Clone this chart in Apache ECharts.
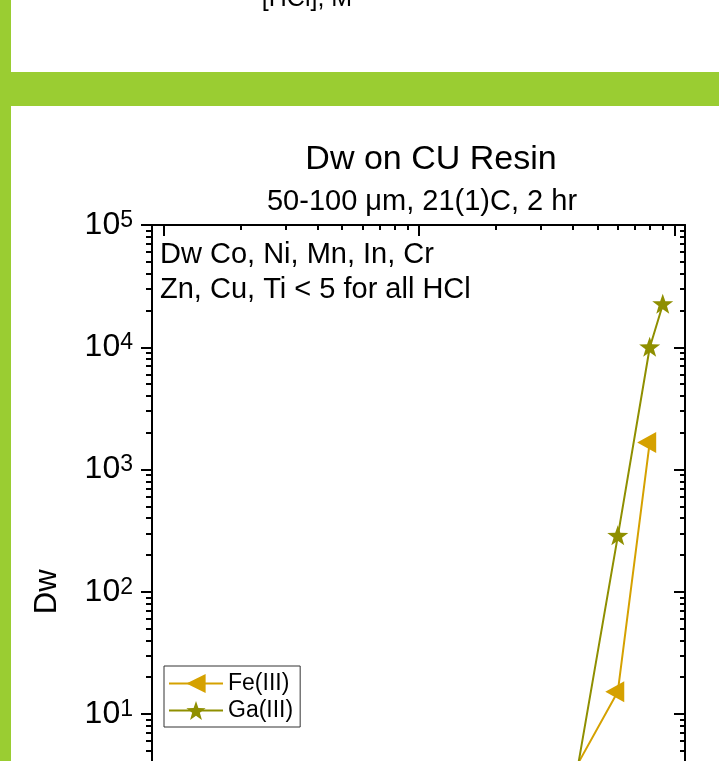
<!DOCTYPE html>
<html><head><meta charset="utf-8">
<script src="https://cdn.jsdelivr.net/npm/echarts@6/dist/echarts.min.js"></script>
<style>html,body{margin:0;padding:0;overflow:hidden;background:#fff}#c{width:719px;height:1000px}</style>
</head><body><div id="c"></div>
<script>
// ---- data ----
const hclFe = [4, 6, 8];
const dwFe = [3.3, 15.2, 1660];
const hclGa = [4, 6, 8, 9];
const dwGa = [2.15, 284, 9900, 22300];
const seriesNames = ['Fe(III)', 'Ga(III)'];
const yDecadeExps = [-1, 0, 1, 2, 3, 4, 5];
const xDecadeValues = [0.1, 1, 10];
const xLabelTexts = ['0.1', '1', '10'];
const titleText = 'Dw on CU Resin';
const subtitleText = '50-100 \u03bcm, 21(1)C, 2 hr';
const noteLines = ['Dw Co, Ni, Mn, In, Cr', 'Zn, Cu, Ti < 5 for all HCl'];
const prevAxisTitle = '[HCl], M';

// ---- layout / style ----
const FF = '"Liberation Sans", Arial, sans-serif';
const xMin = 0.09, xMax = 11, yMin = 0.1, yMax = 1e5;
const lg = Math.log10;
const xMinorVals = [];
for (let d = -2; d <= 1; d++) for (let k = 2; k <= 9; k++) {
  const v = lg(k * Math.pow(10, d));
  if (v >= lg(xMin) - 1e-9 && v <= lg(xMax) + 1e-9) xMinorVals.push(v);
}
const yMinorVals = [];
for (let d = -1; d <= 4; d++) for (let k = 2; k <= 9; k++) yMinorVals.push(lg(k * Math.pow(10, d)));

const black = '#000';
const axLine = { show: true, onZero: false, lineStyle: { color: black, width: 2 } };
const noLine = { show: false, onZero: false };
const noSplit = { show: false };
const noLabel = { show: false };
function tick(vals, len, inside) {
  return { show: true, inside: inside, length: len, customValues: vals, lineStyle: { color: black, width: 2 } };
}
const xLgMin = lg(xMin), xLgMax = lg(xMax);

const chart = echarts.init(document.getElementById('c'), null, { renderer: 'canvas' });
chart.setOption({
  animation: false,
  backgroundColor: '#fff',
  grid: { left: 152, top: 225, width: 533, height: 733.5, containLabel: false, outerBoundsMode: 'none' },
  xAxis: [
    { type: 'log', min: xMin, max: xMax, position: 'bottom', axisLine: axLine, axisTick: { show: false },
      axisLabel: noLabel, splitLine: noSplit, name: prevAxisTitle, nameLocation: 'middle', nameGap: 40,
      nameTextStyle: { fontSize: 30, fontFamily: FF, color: black } },
    { type: 'value', min: xLgMin, max: xLgMax, position: 'top', axisLine: axLine,
      axisTick: tick(xDecadeValues.map(lg), 11, true), axisLabel: noLabel, splitLine: noSplit },
    { type: 'value', min: xLgMin, max: xLgMax, position: 'top', axisLine: noLine,
      axisTick: tick(xMinorVals, 5, true), axisLabel: noLabel, splitLine: noSplit },
    { type: 'value', min: xLgMin, max: xLgMax, position: 'bottom', axisLine: noLine,
      axisTick: tick(xDecadeValues.map(lg), 11, false), splitLine: noSplit,
      axisLabel: { show: true, customValues: xDecadeValues.map(lg), fontSize: 30, fontFamily: FF, color: black,
        formatter: v => xLabelTexts[Math.round(v) + 1] } },
    { type: 'value', min: xLgMin, max: xLgMax, position: 'bottom', axisLine: noLine,
      axisTick: tick(xMinorVals, 6, false), axisLabel: noLabel, splitLine: noSplit }
  ],
  yAxis: [
    { type: 'log', min: yMin, max: yMax, position: 'left', axisLine: axLine, axisTick: { show: false },
      axisLabel: noLabel, splitLine: noSplit, name: 'Dw', nameLocation: 'middle', nameGap: 89,
      nameTextStyle: { fontSize: 31, fontFamily: FF, color: black } },
    { type: 'value', min: -1, max: 5, position: 'left', axisLine: noLine,
      axisTick: tick(yDecadeExps, 11, false), splitLine: noSplit,
      axisLabel: { show: true, customValues: yDecadeExps, margin: 19, fontFamily: FF, color: black,
        formatter: v => '{b|10}{s|' + Math.round(v) + '}',
        rich: { b: { fontSize: 32, fontFamily: FF, color: black },
                s: { fontSize: 23, fontFamily: FF, color: black, verticalAlign: 'top' } } } },
    { type: 'value', min: -1, max: 5, position: 'left', axisLine: noLine,
      axisTick: tick(yMinorVals, 6, false), axisLabel: noLabel, splitLine: noSplit },
    { type: 'value', min: -1, max: 5, position: 'right', axisLine: axLine,
      axisTick: tick(yDecadeExps, 11, true), axisLabel: noLabel, splitLine: noSplit },
    { type: 'value', min: -1, max: 5, position: 'right', axisLine: noLine,
      axisTick: tick(yMinorVals, 5, true), axisLabel: noLabel, splitLine: noSplit }
  ],
  legend: {
    orient: 'vertical', left: 164, top: 666, padding: [6, 7, 5, 4], itemGap: 4,
    itemWidth: 54, itemHeight: 24, borderColor: '#333', borderWidth: 1, backgroundColor: '#fff',
    borderRadius: 0, data: seriesNames,
    textStyle: { fontSize: 23, fontFamily: FF, color: black }
  },
  graphic: { elements: [
    { type: 'rect', z: 0, shape: { x: 0, y: 0, width: 11, height: 1000 }, style: { fill: '#9ACD32' } },
    { type: 'rect', z: 0, shape: { x: 0, y: 72, width: 719, height: 34 }, style: { fill: '#9ACD32' } },
    { type: 'text', z: 10, x: 307, y: -1, style: { text: prevAxisTitle, font: '25px ' + FF, fill: black, align: 'center', verticalAlign: 'middle' } },
    { type: 'text', z: 10, x: 431, y: 159.5, style: { text: titleText, font: '34px ' + FF, fill: black, align: 'center', verticalAlign: 'middle' } },
    { type: 'text', z: 10, x: 422, y: 201.5, style: { text: subtitleText, font: '29px ' + FF, fill: black, align: 'center', verticalAlign: 'middle' } },
    { type: 'text', z: 10, x: 160, y: 255, style: { text: noteLines[0], font: '29px ' + FF, fill: black, align: 'left', verticalAlign: 'middle' } },
    { type: 'text', z: 10, x: 160, y: 290, style: { text: noteLines[1], font: '29px ' + FF, fill: black, align: 'left', verticalAlign: 'middle' } }
  ] },
  series: [
    { name: seriesNames[0], type: 'line', xAxisIndex: 0, yAxisIndex: 0,
      data: hclFe.map((x, i) => [x, dwFe[i]]),
      symbol: 'triangle', symbolSize: [21, 19], symbolRotate: 90, symbolOffset: [-3, 0],
      itemStyle: { color: '#D5A100' }, lineStyle: { color: '#D5A100', width: 2 } },
    { name: seriesNames[1], type: 'line', xAxisIndex: 0, yAxisIndex: 0,
      data: hclGa.map((x, i) => [x, dwGa[i]]),
      symbol: 'path://M0,-10L2.351,-3.236L9.511,-3.09L3.804,1.236L5.878,8.09L0,4L-5.878,8.09L-3.804,1.236L-9.511,-3.09L-2.351,-3.236Z',
      symbolSize: [21, 20], symbolOffset: [0, -1],
      itemStyle: { color: '#8F8F00' }, lineStyle: { color: '#8F8F00', width: 2 } }
  ]
});
</script></body></html>
